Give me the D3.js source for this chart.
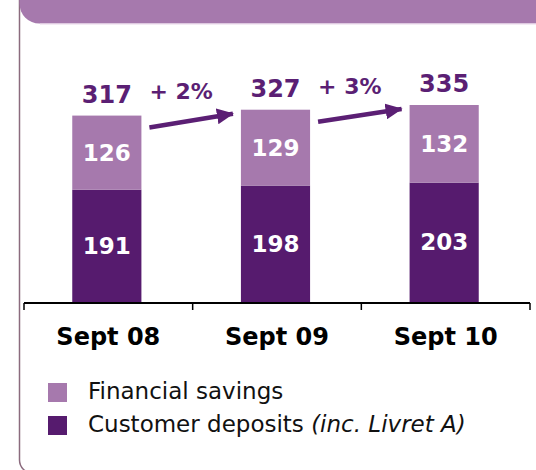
<!DOCTYPE html>
<html>
<head>
<meta charset="utf-8">
<script src="https://cdn.jsdelivr.net/npm/d3@7"></script>
<style>
  body { margin: 0; background: #fff; }
  svg { display: block; font-family: "DejaVu Sans", Verdana, sans-serif; }
</style>
</head>
<body>
<div id="chart"></div>
<script>
// data
const categories = ["Sept 08", "Sept 09", "Sept 10"];
const customerDeposits = [191, 198, 203];
const financialSavings = [126, 129, 132];
const totals = [317, 327, 335];
const growthLabels = ["+ 2%", "+ 3%"];
const legendLabels = ["Financial savings", "Customer deposits"];
const legendNote = "(inc. Livret A)";
const title = "Growth in savings deposits (in €bn)";

const width = 536, height = 470;
const light = "#a679ad", dark = "#561b6e", ink = "#5b1f74";

const svg = d3.select("#chart")
  .append("svg")
  .attr("width", width)
  .attr("height", height);

// frame of the slide box
svg.append("rect")
  .attr("x", 19.5).attr("y", -60)
  .attr("width", 640).attr("height", 533)
  .attr("rx", 13)
  .attr("fill", "none")
  .attr("stroke", "#8b6b7e")
  .attr("stroke-width", 1.5);

// header band
svg.append("rect")
  .attr("x", 19.5).attr("y", -60)
  .attr("width", 540).attr("height", 83.5)
  .attr("rx", 20)
  .attr("fill", light);
svg.append("line")
  .attr("x1", 40).attr("x2", 536)
  .attr("y1", 24).attr("y2", 24)
  .attr("stroke", "#ead6ea").attr("stroke-width", 1);
svg.append("text")
  .attr("x", 487).attr("y", -6)
  .attr("text-anchor", "end")
  .attr("font-size", "26px").attr("font-weight", "bold")
  .attr("fill", "#fff")
  .text(title);

// scales
const x = d3.scaleBand()
  .domain(categories)
  .range([24, 530])
  .padding(0);
const barW = x.bandwidth() * 0.41;

const y = d3.scaleLinear()
  .domain([0, 335])
  .range([302, 105]);

const rows = categories.map((c, i) => ({
  cat: c, dep: customerDeposits[i], fin: financialSavings[i], total: totals[i]
}));

const bx = d => x(d.cat) + (x.bandwidth() - barW) / 2 - 1.5;
const cx = d => bx(d) + barW / 2;

// stacked bars
svg.selectAll(".dep")
  .data(rows)
  .join("rect")
  .attr("class", "dep")
  .attr("x", bx)
  .attr("width", barW)
  .attr("y", d => y(d.dep))
  .attr("height", d => y(0) - y(d.dep))
  .attr("fill", dark);

svg.selectAll(".fin")
  .data(rows)
  .join("rect")
  .attr("class", "fin")
  .attr("x", bx)
  .attr("width", barW)
  .attr("y", d => y(d.dep + d.fin))
  .attr("height", d => y(d.dep) - y(d.dep + d.fin))
  .attr("fill", light);

// values inside segments
svg.selectAll(".depLabel")
  .data(rows)
  .join("text")
  .attr("x", cx)
  .attr("y", d => (y(0) + y(d.dep)) / 2 + 8)
  .attr("text-anchor", "middle")
  .attr("font-size", "23px").attr("font-weight", "bold")
  .attr("fill", "#fff")
  .text(d => d.dep);

svg.selectAll(".finLabel")
  .data(rows)
  .join("text")
  .attr("x", cx)
  .attr("y", d => (y(d.dep) + y(d.dep + d.fin)) / 2 + 8)
  .attr("text-anchor", "middle")
  .attr("font-size", "23px").attr("font-weight", "bold")
  .attr("fill", "#fff")
  .text(d => d.fin);

// totals on top
svg.selectAll(".totalLabel")
  .data(rows)
  .join("text")
  .attr("x", cx)
  .attr("y", d => y(d.total) - 13)
  .attr("text-anchor", "middle")
  .attr("font-size", "24px").attr("font-weight", "bold")
  .attr("fill", ink)
  .text(d => d.total);

// growth arrows between bars
svg.append("defs").append("marker")
  .attr("id", "head")
  .attr("markerUnits", "userSpaceOnUse")
  .attr("markerWidth", 17).attr("markerHeight", 16)
  .attr("refX", 16).attr("refY", 8)
  .attr("orient", "auto")
  .append("path")
  .attr("d", "M0,0 L17,8 L0,16 Z")
  .attr("fill", ink);

const arrows = growthLabels.map((g, i) => ({
  label: g,
  x1: bx(rows[i]) + barW + 8,
  y1: y(rows[i].total) + 12,
  x2: bx(rows[i + 1]) - 8,
  y2: y(rows[i + 1].total) + 4
}));

svg.selectAll(".arrow")
  .data(arrows)
  .join("line")
  .attr("x1", d => d.x1).attr("y1", d => d.y1)
  .attr("x2", d => d.x2).attr("y2", d => d.y2)
  .attr("stroke", ink)
  .attr("stroke-width", 4.5)
  .attr("marker-end", "url(#head)");

svg.selectAll(".growth")
  .data(arrows)
  .join("text")
  .attr("x", d => (d.x1 + d.x2) / 2 - 10)
  .attr("y", d => d.y2 - 15)
  .attr("text-anchor", "middle")
  .attr("font-size", "22px").attr("font-weight", "bold")
  .attr("fill", ink)
  .text(d => d.label);

// x axis: line with ticks on band edges, labels at centers
const axis = svg.append("g").attr("transform", "translate(0,303)");
axis.append("line")
  .attr("x1", x.range()[0]).attr("x2", x.range()[1])
  .attr("stroke", "#000").attr("stroke-width", 2);
const edges = categories.map(c => x(c)).concat([x.range()[1]]);
axis.selectAll(".tick")
  .data(edges)
  .join("line")
  .attr("x1", d => d).attr("x2", d => d)
  .attr("y1", 0).attr("y2", 7)
  .attr("stroke", "#000").attr("stroke-width", 1.5);
axis.selectAll(".catLabel")
  .data(categories)
  .join("text")
  .attr("x", d => x(d) + x.bandwidth() / 2)
  .attr("y", 42)
  .attr("text-anchor", "middle")
  .attr("font-size", "24px").attr("font-weight", "bold")
  .attr("fill", "#000")
  .text(d => d);

// legend
const legend = svg.append("g").attr("transform", "translate(48,383)");
const items = legend.selectAll("g")
  .data(legendLabels)
  .join("g")
  .attr("transform", (d, i) => `translate(0,${i * 33})`);
items.append("rect")
  .attr("width", 19).attr("height", 19)
  .attr("fill", (d, i) => i === 0 ? light : dark);
const lt = items.append("text")
  .attr("x", 40).attr("y", 16)
  .attr("font-size", "23px")
  .attr("fill", "#111")
  .text(d => d);
lt.filter((d, i) => i === 1)
  .append("tspan")
  .attr("font-style", "italic")
  .text(" " + legendNote);
</script>
</body>
</html>
